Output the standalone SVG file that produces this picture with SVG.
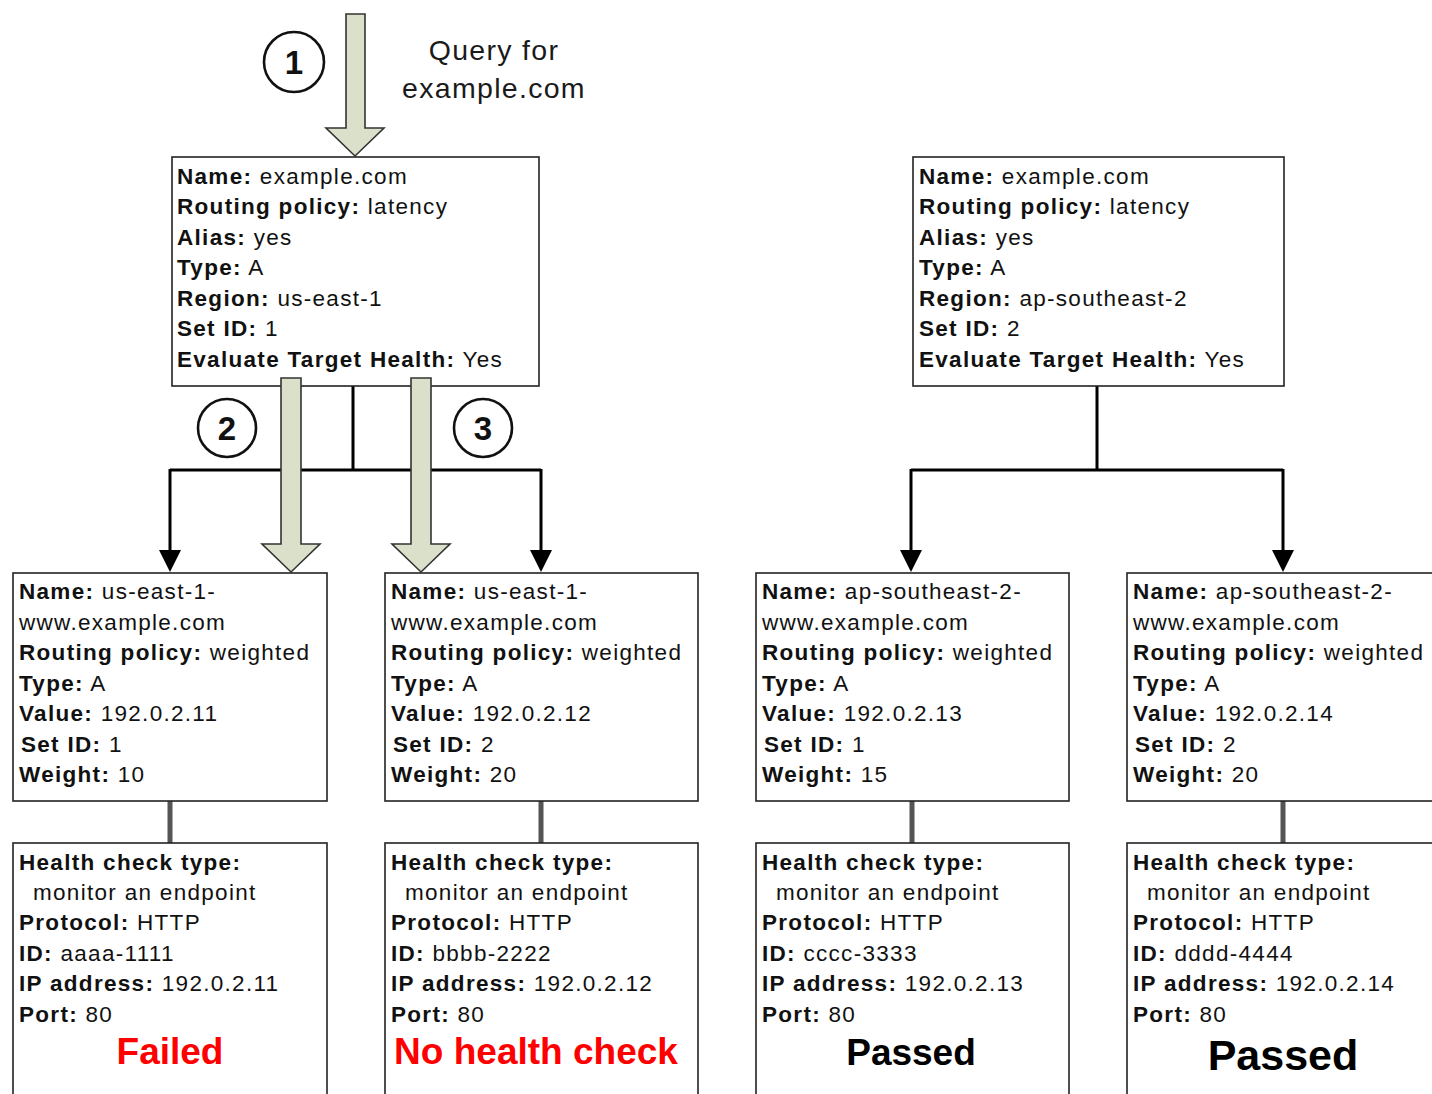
<svg xmlns="http://www.w3.org/2000/svg" width="1432" height="1094" viewBox="0 0 1432 1094">
<defs>
<style>
.box{fill:#fff;stroke:#222;stroke-width:1.6}
.t{font-family:"Liberation Sans",Arial,sans-serif;font-size:22.5px;letter-spacing:1.3px;fill:#111}
.b{font-weight:bold}
.q{font-family:"Liberation Sans",Arial,sans-serif;font-size:28.5px;letter-spacing:1.3px;fill:#1a1a1a}
.st{font-family:"Liberation Sans",Arial,sans-serif;font-weight:bold;text-anchor:middle}
.big{fill:#dbe0ca;stroke:#333;stroke-width:1.6;stroke-linejoin:miter}
.circ{fill:#fff;stroke:#111;stroke-width:2.6}
.num{font-family:"Liberation Sans",Arial,sans-serif;font-weight:bold;font-size:33px;text-anchor:middle;fill:#111}
.con{fill:none;stroke:#000;stroke-width:3}
.link{fill:none;stroke:#555;stroke-width:5}
</style>
<marker id="ah" markerUnits="userSpaceOnUse" markerWidth="22" markerHeight="22" refX="10" refY="11" orient="auto">
<path d="M0,0 L22,11 L0,22 z" fill="#000"/>
</marker>
</defs>
<rect width="1432" height="1094" fill="#fff"/>

<g id="connectors">
<path class="con" d="M353,386 V470 M170,470 H541"/>
<path class="con" d="M170,469 V560" marker-end="url(#ah)"/>
<path class="con" d="M541,469 V560" marker-end="url(#ah)"/>
<path class="con" d="M1097,386 V470 M911,470 H1283"/>
<path class="con" d="M911,469 V560" marker-end="url(#ah)"/>
<path class="con" d="M1283,469 V560" marker-end="url(#ah)"/>
<path class="link" d="M170,801 V843 M541,801 V843 M912,801 V843 M1283,801 V843"/>
</g>

<g id="query-label">
<text class="q" x="494" y="60" text-anchor="middle">Query for</text>
<text class="q" x="494" y="98" text-anchor="middle">example.com</text>
</g>

<g id="step1">
<circle class="circ" cx="294" cy="62" r="30"/>
<text class="num" x="294" y="74">1</text>
</g>
<g id="step2">
<circle class="circ" cx="227" cy="428" r="29"/>
<text class="num" x="227" y="440">2</text>
</g>
<g id="step3">
<circle class="circ" cx="483" cy="428" r="29"/>
<text class="num" x="483" y="440">3</text>
</g>

<g id="latency-us-east-1">
<rect class="box" x="172" y="157" width="367" height="229"/>
<text class="t" x="177" y="184"><tspan class="b">Name:</tspan> example.com</text>
<text class="t" x="177" y="214"><tspan class="b">Routing policy:</tspan> latency</text>
<text class="t" x="177" y="245"><tspan class="b">Alias:</tspan> yes</text>
<text class="t" x="177" y="275"><tspan class="b">Type:</tspan> A</text>
<text class="t" x="177" y="306"><tspan class="b">Region:</tspan> us-east-1</text>
<text class="t" x="177" y="336"><tspan class="b">Set ID:</tspan> 1</text>
<text class="t" x="177" y="367"><tspan class="b">Evaluate Target Health:</tspan> Yes</text>
</g>

<g id="latency-ap-southeast-2">
<rect class="box" x="913" y="157" width="371" height="229"/>
<text class="t" x="919" y="184"><tspan class="b">Name:</tspan> example.com</text>
<text class="t" x="919" y="214"><tspan class="b">Routing policy:</tspan> latency</text>
<text class="t" x="919" y="245"><tspan class="b">Alias:</tspan> yes</text>
<text class="t" x="919" y="275"><tspan class="b">Type:</tspan> A</text>
<text class="t" x="919" y="306"><tspan class="b">Region:</tspan> ap-southeast-2</text>
<text class="t" x="919" y="336"><tspan class="b">Set ID:</tspan> 2</text>
<text class="t" x="919" y="367"><tspan class="b">Evaluate Target Health:</tspan> Yes</text>
</g>

<g id="weighted-1">
<rect class="box" x="13" y="573" width="314" height="228"/>
<text class="t" x="19" y="599"><tspan class="b">Name:</tspan> us-east-1-</text>
<text class="t" x="19" y="630">www.example.com</text>
<text class="t" x="19" y="660"><tspan class="b">Routing policy:</tspan> weighted</text>
<text class="t" x="19" y="691"><tspan class="b">Type:</tspan> A</text>
<text class="t" x="19" y="721"><tspan class="b">Value:</tspan> 192.0.2.11</text>
<text class="t" x="21" y="752"><tspan class="b">Set ID:</tspan> 1</text>
<text class="t" x="19" y="782"><tspan class="b">Weight:</tspan> 10</text>
</g>

<g id="weighted-2">
<rect class="box" x="385" y="573" width="313" height="228"/>
<text class="t" x="391" y="599"><tspan class="b">Name:</tspan> us-east-1-</text>
<text class="t" x="391" y="630">www.example.com</text>
<text class="t" x="391" y="660"><tspan class="b">Routing policy:</tspan> weighted</text>
<text class="t" x="391" y="691"><tspan class="b">Type:</tspan> A</text>
<text class="t" x="391" y="721"><tspan class="b">Value:</tspan> 192.0.2.12</text>
<text class="t" x="393" y="752"><tspan class="b">Set ID:</tspan> 2</text>
<text class="t" x="391" y="782"><tspan class="b">Weight:</tspan> 20</text>
</g>

<g id="weighted-3">
<rect class="box" x="756" y="573" width="313" height="228"/>
<text class="t" x="762" y="599"><tspan class="b">Name:</tspan> ap-southeast-2-</text>
<text class="t" x="762" y="630">www.example.com</text>
<text class="t" x="762" y="660"><tspan class="b">Routing policy:</tspan> weighted</text>
<text class="t" x="762" y="691"><tspan class="b">Type:</tspan> A</text>
<text class="t" x="762" y="721"><tspan class="b">Value:</tspan> 192.0.2.13</text>
<text class="t" x="764" y="752"><tspan class="b">Set ID:</tspan> 1</text>
<text class="t" x="762" y="782"><tspan class="b">Weight:</tspan> 15</text>
</g>

<g id="weighted-4">
<rect class="box" x="1127" y="573" width="330" height="228"/>
<text class="t" x="1133" y="599"><tspan class="b">Name:</tspan> ap-southeast-2-</text>
<text class="t" x="1133" y="630">www.example.com</text>
<text class="t" x="1133" y="660"><tspan class="b">Routing policy:</tspan> weighted</text>
<text class="t" x="1133" y="691"><tspan class="b">Type:</tspan> A</text>
<text class="t" x="1133" y="721"><tspan class="b">Value:</tspan> 192.0.2.14</text>
<text class="t" x="1135" y="752"><tspan class="b">Set ID:</tspan> 2</text>
<text class="t" x="1133" y="782"><tspan class="b">Weight:</tspan> 20</text>
</g>

<g id="health-1">
<rect class="box" x="13" y="843" width="314" height="270"/>
<text class="t b" x="19" y="870">Health check type:</text>
<text class="t" x="33" y="900">monitor an endpoint</text>
<text class="t" x="19" y="930"><tspan class="b">Protocol:</tspan> HTTP</text>
<text class="t" x="19" y="961"><tspan class="b">ID:</tspan> aaaa-1111</text>
<text class="t" x="19" y="991"><tspan class="b">IP address:</tspan> 192.0.2.11</text>
<text class="t" x="19" y="1022"><tspan class="b">Port:</tspan> 80</text>
<text class="st" x="170" y="1064" font-size="37" fill="#f00">Failed</text>
</g>

<g id="health-2">
<rect class="box" x="385" y="843" width="313" height="270"/>
<text class="t b" x="391" y="870">Health check type:</text>
<text class="t" x="405" y="900">monitor an endpoint</text>
<text class="t" x="391" y="930"><tspan class="b">Protocol:</tspan> HTTP</text>
<text class="t" x="391" y="961"><tspan class="b">ID:</tspan> bbbb-2222</text>
<text class="t" x="391" y="991"><tspan class="b">IP address:</tspan> 192.0.2.12</text>
<text class="t" x="391" y="1022"><tspan class="b">Port:</tspan> 80</text>
<text class="st" x="536" y="1064" font-size="37" fill="#f00">No health check</text>
</g>

<g id="health-3">
<rect class="box" x="756" y="843" width="313" height="270"/>
<text class="t b" x="762" y="870">Health check type:</text>
<text class="t" x="776" y="900">monitor an endpoint</text>
<text class="t" x="762" y="930"><tspan class="b">Protocol:</tspan> HTTP</text>
<text class="t" x="762" y="961"><tspan class="b">ID:</tspan> cccc-3333</text>
<text class="t" x="762" y="991"><tspan class="b">IP address:</tspan> 192.0.2.13</text>
<text class="t" x="762" y="1022"><tspan class="b">Port:</tspan> 80</text>
<text class="st" x="911" y="1065" font-size="37" fill="#000">Passed</text>
</g>

<g id="health-4">
<rect class="box" x="1127" y="843" width="330" height="270"/>
<text class="t b" x="1133" y="870">Health check type:</text>
<text class="t" x="1147" y="900">monitor an endpoint</text>
<text class="t" x="1133" y="930"><tspan class="b">Protocol:</tspan> HTTP</text>
<text class="t" x="1133" y="961"><tspan class="b">ID:</tspan> dddd-4444</text>
<text class="t" x="1133" y="991"><tspan class="b">IP address:</tspan> 192.0.2.14</text>
<text class="t" x="1133" y="1022"><tspan class="b">Port:</tspan> 80</text>
<text class="st" x="1283" y="1070" font-size="43" fill="#000">Passed</text>
</g>

<g id="query-arrows">
<polygon class="big" points="346,14 365,14 365,128 384,128 355,156 326,128 346,128"/>
<polygon class="big" points="281,378 301,378 301,544 320,544 291,572 262,544 281,544"/>
<polygon class="big" points="411,378 431,378 431,544 450,544 421,572 392,544 411,544"/>
</g>
</svg>
